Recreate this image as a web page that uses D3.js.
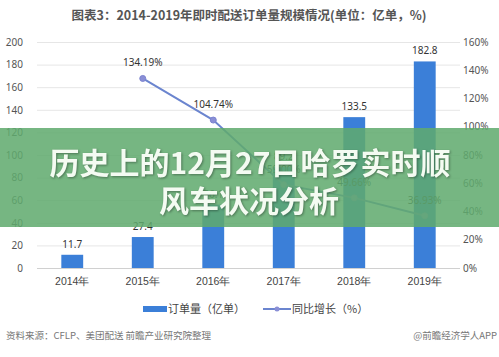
<!DOCTYPE html>
<html><head><meta charset="utf-8">
<script src="https://cdn.jsdelivr.net/npm/d3@7"></script>
<style>
html,body{margin:0;padding:0;background:#fff;}
svg{display:block;font-family:"Noto Sans CJK SC","Noto Sans",sans-serif;}
</style></head>
<body>
<svg id="c" width="499" height="357"></svg>
<script>
const years = ["2014年","2015年","2016年","2017年","2018年","2019年"];
const orders = [11.7, 27.4, 56.1, 89.2, 133.5, 182.8];
const orderLabels = ["11.7","27.4","56.1","89.2","133.5","182.8"];
const growth = [null, 134.19, 104.74, 59.00, 49.66, 36.93];
const growthLabels = ["", "134.19%", "104.74%", "59.00%", "49.66%", "36.93%"];
const leftTicks = [0,20,40,60,80,100,120,140,160,180,200];
const rightTicks = [0,20,40,60,80,100,120,140,160];

const svg = d3.select("#c");
const pL = 37, pR = 460, pT = 42, pB = 268;

const x = d3.scaleBand().domain(years).range([pL, pR]).paddingInner(0.69).paddingOuter(0.345);
const xc = d3.scaleBand().domain(years).range([pL, pR]);
const yL = d3.scaleLinear().domain([0,200]).range([pB, pT]);
const yR = d3.scaleLinear().domain([0,160]).range([pB, pT]);

// title
svg.append("text").attr("x", 249).attr("y", 20).attr("text-anchor","middle")
  .attr("font-size", 12.5).attr("font-weight","bold").attr("fill","#555")
  .text("图表3：2014-2019年即时配送订单量规模情况(单位：亿单，%)");

// gridlines
svg.append("g").selectAll("line").data(leftTicks).join("line")
  .attr("x1", pL).attr("x2", pR)
  .attr("y1", d=>yL(d)+0.5).attr("y2", d=>yL(d)+0.5)
  .attr("stroke", d=> d===0 ? "#d0d0d0" : "#e6e6e6").attr("stroke-width",1);

// left axis
const gl = svg.append("g").attr("transform",`translate(${pL-2},0)`)
  .call(d3.axisLeft(yL).tickValues(leftTicks).tickSize(0).tickPadding(12));
gl.select(".domain").remove();
gl.selectAll("text").attr("font-size",10).attr("fill","#555").attr("font-family","'Noto Sans',sans-serif");

// right axis
const gr = svg.append("g").attr("transform",`translate(${pR},0)`)
  .call(d3.axisRight(yR).tickValues(rightTicks).tickFormat(d=>d+"%").tickSize(0).tickPadding(3));
gr.select(".domain").remove();
gr.selectAll("text").attr("font-size",10).attr("fill","#555").attr("font-family","'Noto Sans',sans-serif");

// x axis
const gx = svg.append("g").attr("transform",`translate(0,${pB})`)
  .call(d3.axisBottom(xc).tickSize(0).tickPadding(10));
gx.select(".domain").remove();
gx.selectAll("text").attr("font-size",10.5).attr("fill","#444");

// bars
svg.append("g").selectAll("rect").data(orders).join("rect")
  .attr("x",(d,i)=>x(years[i])).attr("width",x.bandwidth())
  .attr("y",d=>yL(d)).attr("height",d=>pB-yL(d))
  .attr("fill","#3b7fd8");
svg.append("g").selectAll("text").data(orders).join("text")
  .attr("x",(d,i)=>xc(years[i])+xc.bandwidth()/2).attr("y",d=>yL(d)-7)
  .attr("text-anchor","middle").attr("font-size",10).attr("fill","#333")
  .attr("font-family","'Noto Sans',sans-serif")
  .text((d,i)=>orderLabels[i]);

// line
const pts = growth.map((g,i)=>({g,i})).filter(d=>d.g!==null);
const line = d3.line().x(d=>xc(years[d.i])+xc.bandwidth()/2).y(d=>yR(d.g));
svg.append("path").datum(pts).attr("d",line).attr("fill","none")
  .attr("stroke","#6b85cf").attr("stroke-width",2);
svg.append("g").selectAll("circle").data(pts).join("circle")
  .attr("cx",d=>xc(years[d.i])+xc.bandwidth()/2).attr("cy",d=>yR(d.g)).attr("r",3)
  .attr("fill","#8a8fd6").attr("stroke","#7c84d0");
svg.append("g").selectAll("text").data(pts).join("text")
  .attr("x",d=>xc(years[d.i])+xc.bandwidth()/2).attr("y",d=>yR(d.g)-12)
  .attr("text-anchor","middle").attr("font-size",10).attr("fill","#333")
  .attr("font-family","'Noto Sans',sans-serif")
  .text(d=>growthLabels[d.i]);

// legend
svg.append("rect").attr("x",143).attr("y",306).attr("width",24).attr("height",6).attr("fill","#3b7fd8");
svg.append("text").attr("x",168).attr("y",313).attr("font-size",11).attr("fill","#444").text("订单量（亿单）");
svg.append("line").attr("x1",263).attr("x2",291).attr("y1",309).attr("y2",309).attr("stroke","#6b85cf").attr("stroke-width",2);
svg.append("circle").attr("cx",277).attr("cy",309).attr("r",2.5).attr("fill","#8a8fd6");
svg.append("text").attr("x",292).attr("y",313).attr("font-size",11).attr("fill","#444").text("同比增长（%）");

// footer
svg.append("text").attr("x",6).attr("y",339).attr("font-size",9.5).attr("fill","#777")
  .text("资料来源：CFLP、美团配送 前瞻产业研究院整理");
svg.append("text").attr("x",497).attr("y",339).attr("text-anchor","end").attr("font-size",9.5).attr("fill","#777")
  .text("@前瞻经济学人APP");

// banner
svg.append("rect").attr("x",0).attr("y",128).attr("width",499).attr("height",99)
  .attr("fill","rgb(96,170,110)").attr("opacity",0.86);
const t = svg.append("g").attr("font-size",30).attr("font-weight","bold").attr("fill","#f4fbf2")
  .attr("text-anchor","middle").style("filter","drop-shadow(1px 1px 1px rgba(0,0,0,0.35))");
t.append("text").attr("x",250).attr("y",174).text("历史上的12月27日哈罗实时顺");
t.append("text").attr("x",249).attr("y",212).text("风车状况分析");
</script>
</body></html>
